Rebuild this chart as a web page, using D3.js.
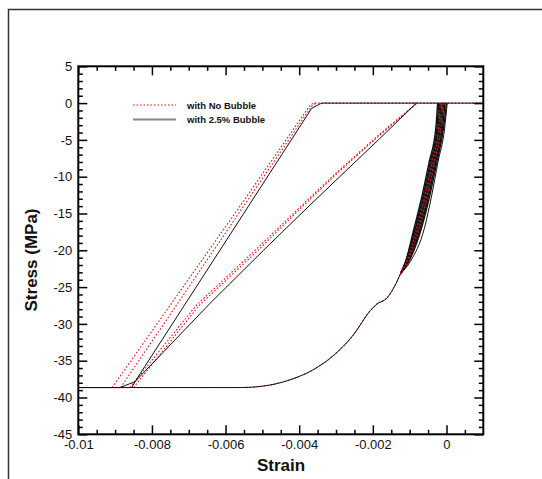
<!DOCTYPE html>
<html>
<head>
<meta charset="utf-8">
<script src="https://cdn.jsdelivr.net/npm/d3@7"></script>
<style>
  body { margin: 0; background: #fff; }
  text { font-family: "Liberation Sans", Arial, sans-serif; }
</style>
</head>
<body>
<div class="chart"></div>
<script>
var width = 542,
    height = 479;

// axis ticks
var xTicks = [-0.01, -0.008, -0.006, -0.004, -0.002, 0];
var xTickLabels = ["-0.01", "-0.008", "-0.006", "-0.004", "-0.002", "0"];
var xMinor = [-0.0095, -0.009, -0.0085, -0.0075, -0.007, -0.0065, -0.0055, -0.005, -0.0045,
              -0.0035, -0.003, -0.0025, -0.0015, -0.001, -0.0005, 0.0005];
var yTicks = [5, 0, -5, -10, -15, -20, -25, -30, -35, -40, -45];
var yTickLabels = ["5", "0", "-5", "-10", "-15", "-20", "-25", "-30", "-35", "-40", "-45"];
var yMinor = [4, 3, 2, 1, -1, -2, -3, -4, -6, -7, -8, -9, -11, -12, -13, -14, -16, -17, -18, -19,
              -21, -22, -23, -24, -26, -27, -28, -29, -31, -32, -33, -34, -36, -37, -38, -39,
              -41, -42, -43, -44];

var legendLabels = ["with No Bubble", "with 2.5% Bubble"];

// [strain, stress] - first loading curve (both cases lie on it)
var bottomCurve = [[-0.0100, -38.65], [-0.0056, -38.65], [-0.00506, -38.5], [-0.00425, -37.6],
                   [-0.00361, -36.2], [-0.00307, -34.3], [-0.00253, -31.5], [-0.00207, -28.2],
                   [-0.00189, -27.3], [-0.00162, -26.5], [-0.00135, -24.3], [-0.00125, -23.2]];

// with 2.5% bubble
var bubbleLeft = [[-0.0100, -38.65], [-0.00887, -38.65], [-0.00846, -37.85], [-0.00366, -0.7],
                  [-0.00339, 0], [0.001, 0]];
var bubbleMiddle = [[-0.00855, -38.65], [-0.00846, -37.85], [-0.00642, -27.2], [-0.00497, -20],
                    [-0.00384, -14.5], [-0.0029, -10], [-0.00185, -5], [-0.00082, 0]];

// with no bubble
var noBubbleLeft1 = [[-0.00908, -38.65], [-0.00565, -14.3], [-0.00372, -0.4], [-0.00362, 0], [0.001, 0]];
var noBubbleLeft2 = [[-0.00885, -38.65], [-0.00555, -14.3], [-0.00366, -0.4], [-0.00355, 0]];
var noBubbleMid1 = [[-0.0086, -38.65], [-0.0068, -27.5], [-0.0052, -20], [-0.00395, -14],
                    [-0.0030, -9.5], [-0.0019, -4.6], [-0.0008, 0]];
var noBubbleMid2 = [[-0.0085, -38.65], [-0.00672, -27.5], [-0.00512, -20], [-0.0039, -14],
                    [-0.00296, -9.5], [-0.00187, -4.6], [-0.0008, 0]];

// reloading cycles near zero strain
var cycleStress = [-23.2, -21.5, -17, -12.5, -8, -3.4, 0];
var bubbleCycles = [
  [-0.00125, -0.00111, -0.00088, -0.00066, -0.00047, -0.00029, -0.00024],
  [-0.00125, -0.00110, -0.00085, -0.00063, -0.00044, -0.00026, -0.00021],
  [-0.00125, -0.00109, -0.00083, -0.00060, -0.00041, -0.00023, -0.00018],
  [-0.00125, -0.00108, -0.00080, -0.00057, -0.00038, -0.00020, -0.00015],
  [-0.00125, -0.00107, -0.00077, -0.00054, -0.00035, -0.00017, -0.00011],
  [-0.00125, -0.00106, -0.00074, -0.00051, -0.00032, -0.00014, -0.00008],
  [-0.00125, -0.00104, -0.00071, -0.00048, -0.00029, -0.00011, -0.00004],
  [-0.00125, -0.00102, -0.00068, -0.00045, -0.00026, -0.00008, 0.00000]
];
var bubbleLastCycle = [-0.00125, -0.00098, -0.00060, -0.00040, -0.00023, -0.00005, 0.00002];
var noBubbleCycles = [
  [-0.00125, -0.00108, -0.00081, -0.00058, -0.00039, -0.00021, -0.00017],
  [-0.00125, -0.00105, -0.00075, -0.00052, -0.00033, -0.00015, -0.00010]
];

var svg = d3.select(".chart").append("svg")
    .attr("width", width)
    .attr("height", height);

// outer frame (top and left only)
svg.append("path")
    .attr("d", "M8.5," + height + "V9.5H" + width)
    .attr("fill", "none")
    .attr("stroke", "#333")
    .attr("stroke-width", 1.5);

var x = d3.scaleLinear().domain([-0.01, 0.001]).range([78.3, 483.3]);
var y = d3.scaleLinear().domain([-45, 5]).range([434.3, 66.3]);

var line = d3.line()
    .x(function(d) { return x(d[0]); })
    .y(function(d) { return y(d[1]); });
var smooth = d3.line()
    .x(function(d) { return x(d[0]); })
    .y(function(d) { return y(d[1]); })
    .curve(d3.curveMonotoneX);

var plot = svg.append("g");

function red(data, gen) {
  plot.append("path").datum(data)
    .attr("d", gen)
    .attr("fill", "none")
    .attr("stroke", "#e8141a")
    .attr("stroke-width", 1.1)
    .attr("stroke-dasharray", "1.6,1.9");
}
function black(data, gen, w) {
  plot.append("path").datum(data)
    .attr("d", gen)
    .attr("fill", "none")
    .attr("stroke", "#111")
    .attr("stroke-width", w || 1);
}
function withStress(c) {
  return c.map(function(s, i) { return [s, cycleStress[i]]; });
}

// no bubble (red dotted) underneath
red(bottomCurve, smooth);
red(noBubbleLeft1, line);
red(noBubbleLeft2, line);
red(noBubbleMid1, line);
red(noBubbleMid2, line);

// 2.5% bubble (black solid)
black(bottomCurve, smooth);
black(bubbleLeft, line);
black(bubbleMiddle, line);
bubbleCycles.forEach(function(c) { black(withStress(c), smooth, 1.4); });
black(withStress(bubbleLastCycle), smooth, 1);
noBubbleCycles.forEach(function(c) { red(withStress(c), smooth); });

// axes: ticks pointing inwards on all four sides
function styleAxis(g) {
  g.select(".domain").remove();
  g.selectAll(".tick line").attr("stroke", "#000").attr("stroke-width", 1.5);
  g.selectAll("text").attr("font-size", 13).attr("fill", "#111");
}

svg.append("g")
    .attr("transform", "translate(0," + y(-45) + ")")
    .call(d3.axisBottom(x).tickValues(xTicks).tickSize(-9).tickSizeOuter(0).tickPadding(5)
      .tickFormat(function(d, i) { return xTickLabels[i]; }))
    .call(styleAxis);
svg.append("g")
    .attr("transform", "translate(0," + y(-45) + ")")
    .call(d3.axisBottom(x).tickValues(xMinor).tickSize(-4.5).tickSizeOuter(0).tickFormat(""))
    .call(styleAxis);
svg.append("g")
    .attr("transform", "translate(0," + y(5) + ")")
    .call(d3.axisTop(x).tickValues(xTicks).tickSize(-9).tickSizeOuter(0).tickFormat(""))
    .call(styleAxis);
svg.append("g")
    .attr("transform", "translate(0," + y(5) + ")")
    .call(d3.axisTop(x).tickValues(xMinor).tickSize(-4.5).tickSizeOuter(0).tickFormat(""))
    .call(styleAxis);

svg.append("g")
    .attr("transform", "translate(" + x(-0.01) + ",0)")
    .call(d3.axisLeft(y).tickValues(yTicks).tickSize(-9).tickSizeOuter(0).tickPadding(6)
      .tickFormat(function(d, i) { return yTickLabels[i]; }))
    .call(styleAxis);
svg.append("g")
    .attr("transform", "translate(" + x(-0.01) + ",0)")
    .call(d3.axisLeft(y).tickValues(yMinor).tickSize(-4.5).tickSizeOuter(0).tickFormat(""))
    .call(styleAxis);
svg.append("g")
    .attr("transform", "translate(" + x(0.001) + ",0)")
    .call(d3.axisRight(y).tickValues(yTicks).tickSize(-9).tickSizeOuter(0).tickFormat(""))
    .call(styleAxis);
svg.append("g")
    .attr("transform", "translate(" + x(0.001) + ",0)")
    .call(d3.axisRight(y).tickValues(yMinor).tickSize(-4.5).tickSizeOuter(0).tickFormat(""))
    .call(styleAxis);

// plot frame
svg.append("rect")
    .attr("x", x(-0.01))
    .attr("y", y(5))
    .attr("width", x(0.001) - x(-0.01))
    .attr("height", y(-45) - y(5))
    .attr("fill", "none")
    .attr("stroke", "#000")
    .attr("stroke-width", 2);

// axis titles
svg.append("text")
    .attr("x", 281)
    .attr("y", 471)
    .attr("text-anchor", "middle")
    .attr("font-size", 17)
    .attr("font-weight", "bold")
    .attr("fill", "#111")
    .text("Strain");
svg.append("text")
    .attr("transform", "translate(37,260) rotate(-90)")
    .attr("text-anchor", "middle")
    .attr("font-size", 17)
    .attr("font-weight", "bold")
    .attr("fill", "#111")
    .text("Stress (MPa)");

// legend
var legend = svg.append("g");
legend.append("line")
    .attr("x1", 133).attr("x2", 176).attr("y1", 105).attr("y2", 105)
    .attr("stroke", "#e8141a").attr("stroke-width", 1.1).attr("stroke-dasharray", "1.6,1.9");
legend.append("line")
    .attr("x1", 133).attr("x2", 176).attr("y1", 119.5).attr("y2", 119.5)
    .attr("stroke", "#888").attr("stroke-width", 2);
legend.selectAll("text.lab")
    .data(legendLabels)
    .enter().append("text")
    .attr("class", "lab")
    .attr("x", 187)
    .attr("y", function(d, i) { return 108.5 + i * 14.5; })
    .attr("font-size", 9.5)
    .attr("font-weight", "bold")
    .attr("fill", "#111")
    .text(function(d) { return d; });
</script>
</body>
</html>
